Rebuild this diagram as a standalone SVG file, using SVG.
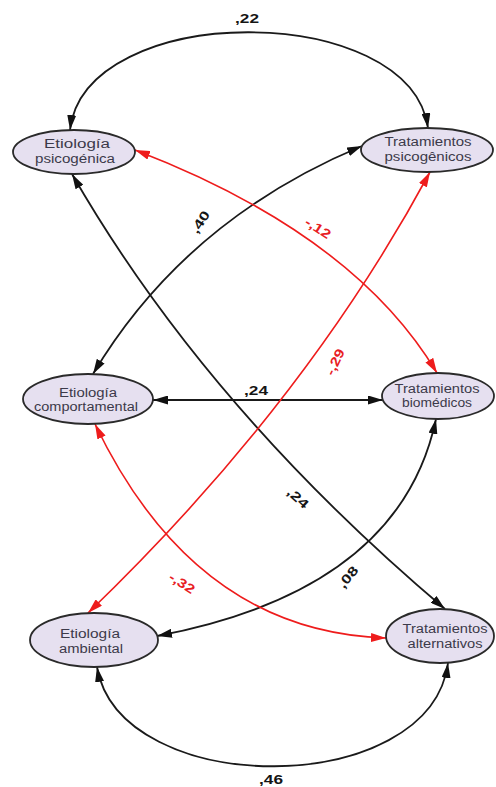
<svg xmlns="http://www.w3.org/2000/svg" width="496" height="787" viewBox="0 0 496 787">
<defs>
<style>
.node ellipse{fill:#e6e0f0;stroke:#2a2a2a;stroke-width:1.8}
.node text{font-family:"Liberation Sans",Arial,sans-serif;font-size:12px;fill:#3c3a4a;text-anchor:middle}
.blk{fill:none;stroke:#1a1a1a;stroke-width:1.8;marker-start:url(#ab);marker-end:url(#ab)}
.red{fill:none;stroke:#ee1c1c;stroke-width:1.6;marker-start:url(#ar);marker-end:url(#ar)}
.lbl{font-family:"Liberation Sans",Arial,sans-serif;font-size:13px;font-weight:bold;text-anchor:middle}
.lb{fill:#151515}
.lr{fill:#e8201f}
</style>
<marker id="ab" viewBox="0 0 15 9" refX="15" refY="4.5" markerWidth="15" markerHeight="9" markerUnits="userSpaceOnUse" orient="auto-start-reverse"><path d="M0,0 L15,4.5 L0,9 z" fill="#111"/></marker>
<marker id="ar" viewBox="0 0 15 9" refX="15" refY="4.5" markerWidth="15" markerHeight="9" markerUnits="userSpaceOnUse" orient="auto-start-reverse"><path d="M0,0 L15,4.5 L0,9 z" fill="#ee1c1c"/></marker>
</defs>
<rect width="496" height="787" fill="#fff"/>
<g id="connectors">
<path class="blk" d="M70,130 C85,0 410,0 428,128"/>
<path class="blk" d="M97,667 C120,800 430,800 448,663"/>
<path class="blk" d="M153,400 L383,400"/>
<path class="blk" d="M93,374 Q185,220 362,146"/>
<path class="blk" d="M72,174 Q206,407 445,609"/>
<path class="blk" d="M157,636 Q400,590 436,419"/>
<path class="red" d="M135,150 Q354,234 437,373"/>
<path class="red" d="M430,172 Q305,404 88,613"/>
<path class="red" d="M95,424 Q195,632 386,638"/>
<text class="lbl lb" x="247" y="23" textLength="24" lengthAdjust="spacingAndGlyphs">,22</text>
<text class="lbl lb" x="271" y="784" textLength="24" lengthAdjust="spacingAndGlyphs">,46</text>
<text class="lbl lb" x="256" y="395" textLength="24" lengthAdjust="spacingAndGlyphs">,24</text>
<text class="lbl lb" transform="translate(200,222) rotate(-57)" dy="0.35em" textLength="24" lengthAdjust="spacingAndGlyphs">,40</text>
<text class="lbl lr" transform="translate(318,228) rotate(33)" dy="0.35em" textLength="28" lengthAdjust="spacingAndGlyphs">-,12</text>
<text class="lbl lr" transform="translate(335,362) rotate(-65)" dy="0.35em" textLength="28" lengthAdjust="spacingAndGlyphs">-,29</text>
<text class="lbl lb" transform="translate(298,498) rotate(42)" dy="0.35em" textLength="24" lengthAdjust="spacingAndGlyphs">,24</text>
<text class="lbl lb" transform="translate(348,577) rotate(-50)" dy="0.35em" textLength="24" lengthAdjust="spacingAndGlyphs">,08</text>
<text class="lbl lr" transform="translate(182,583) rotate(33)" dy="0.35em" textLength="28" lengthAdjust="spacingAndGlyphs">-,32</text>
</g>
<g id="n1" class="node">
<ellipse cx="74" cy="152" rx="61" ry="22"/>
<text x="77" y="148" textLength="66" lengthAdjust="spacingAndGlyphs">Etiología</text>
<text x="75" y="163" textLength="80" lengthAdjust="spacingAndGlyphs">psicogénica</text>
</g>
<g id="n2" class="node">
<ellipse cx="427" cy="150" rx="66" ry="22"/>
<text x="428" y="146" textLength="87" lengthAdjust="spacingAndGlyphs">Tratamientos</text>
<text x="428" y="161" textLength="87" lengthAdjust="spacingAndGlyphs">psicogênicos</text>
</g>
<g id="n3" class="node">
<ellipse cx="88" cy="399" rx="65" ry="25"/>
<text x="88" y="397" textLength="58" lengthAdjust="spacingAndGlyphs">Etiología</text>
<text x="86" y="411" textLength="104" lengthAdjust="spacingAndGlyphs">comportamental</text>
</g>
<g id="n4" class="node">
<ellipse cx="438" cy="396" rx="56" ry="23"/>
<text x="437" y="393" textLength="85" lengthAdjust="spacingAndGlyphs">Tratamientos</text>
<text x="437" y="407" textLength="70" lengthAdjust="spacingAndGlyphs">biomédicos</text>
</g>
<g id="n5" class="node">
<ellipse cx="94" cy="640" rx="64" ry="27"/>
<text x="90" y="638" textLength="60" lengthAdjust="spacingAndGlyphs">Etiología</text>
<text x="91" y="653" textLength="64" lengthAdjust="spacingAndGlyphs">ambiental</text>
</g>
<g id="n6" class="node">
<ellipse cx="440" cy="636" rx="54" ry="27"/>
<text x="445" y="633" textLength="85" lengthAdjust="spacingAndGlyphs">Tratamientos</text>
<text x="445" y="648" textLength="75" lengthAdjust="spacingAndGlyphs">alternativos</text>
</g>
</svg>
